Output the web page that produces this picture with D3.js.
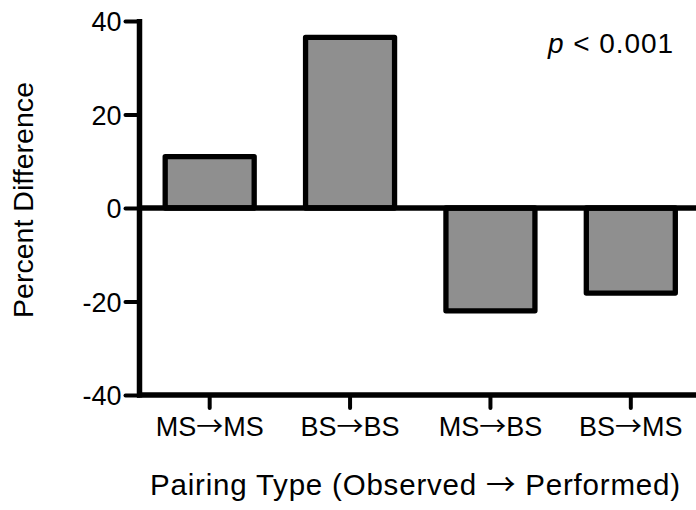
<!DOCTYPE html>
<html>
<head>
<meta charset="utf-8">
<script src="https://cdn.jsdelivr.net/npm/d3@7"></script>
<style>
  html, body { margin: 0; padding: 0; background: #fff; }
  svg { display: block; font-family: "Liberation Sans", Arial, sans-serif; }
</style>
</head>
<body>
<svg id="chart" width="696" height="510"></svg>
<script>
const categories = ["MS\u2192MS", "BS\u2192BS", "MS\u2192BS", "BS\u2192MS"];
const values = [11.0, 36.5, -22.0, -18.2];
const yTicks = [-40, -20, 0, 20, 40];
const xTitle = "Pairing Type (Observed \u2192 Performed)";
const yTitle = "Percent Difference";

(function () {
const svg = d3.select("#chart");
const mLeft = 139.5, mRight = 701, mTop = 21, mBottom = 395;
const ARROW_FONT = "'Noto Sans CJK JP', 'DejaVu Sans', sans-serif";

// write text with the arrow glyph in a wider font
function arrowText(sel, str) {
  const parts = str.split("\u2192");
  parts.forEach((p, i) => {
    if (p) sel.append("tspan").text(p);
    if (i < parts.length - 1)
      sel.append("tspan").attr("font-family", ARROW_FONT).text("\u2192");
  });
}

const x = d3.scaleBand().domain(categories).range([mLeft, mRight])
  .paddingInner(0.366).paddingOuter(0.183);
const y = d3.scaleLinear().domain([-40, 40]).range([mBottom, mTop]);

// bars
svg.append("g").selectAll("rect").data(values).join("rect")
  .attr("x", (d, i) => x(categories[i]))
  .attr("width", x.bandwidth())
  .attr("y", d => y(Math.max(0, d)))
  .attr("height", d => Math.abs(y(d) - y(0)))
  .attr("fill", "#8f8f8f")
  .attr("stroke", "#000")
  .attr("stroke-width", 5.3)
  .attr("stroke-linejoin", "round");

// zero line
svg.append("line")
  .attr("x1", mLeft).attr("x2", 696)
  .attr("y1", y(0)).attr("y2", y(0))
  .attr("stroke", "#000").attr("stroke-width", 5.5);

// y axis
const yAxis = svg.append("g").attr("transform", `translate(${mLeft},0)`)
  .call(d3.axisLeft(y).tickValues(yTicks).tickSize(14).tickPadding(4).tickFormat(d => String(d)));
yAxis.select(".domain").remove();
yAxis.selectAll(".tick line").attr("stroke", "#000").attr("stroke-width", 4).attr("stroke-linecap", "round");
yAxis.selectAll(".tick text").attr("font-size", 27).attr("fill", "#000")
  .attr("font-family", "'Liberation Sans', Arial, sans-serif").attr("dy", "0.36em");
yAxis.append("line").attr("x1", 0).attr("x2", 0).attr("y1", mTop - 2).attr("y2", mBottom + 2.5)
  .attr("stroke", "#000").attr("stroke-width", 5.5);

// x axis
const xAxis = svg.append("g").attr("transform", `translate(0,${mBottom})`)
  .call(d3.axisBottom(x).tickSize(13).tickPadding(0).tickFormat(""));
xAxis.select(".domain").remove();
xAxis.selectAll(".tick line").attr("stroke", "#000").attr("stroke-width", 4).attr("stroke-linecap", "round");
xAxis.selectAll(".tick").each(function (d) {
  const t = d3.select(this).append("text").attr("font-size", 27).attr("fill", "#000")
    .attr("font-family", "'Liberation Sans', Arial, sans-serif")
    .attr("text-anchor", "middle").attr("y", 41);
  arrowText(t, d);
});
xAxis.append("line").attr("x1", mLeft - 2.5).attr("x2", 696).attr("y1", 0).attr("y2", 0)
  .attr("stroke", "#000").attr("stroke-width", 5.5);

// titles
const xt = svg.append("text").attr("x", 415).attr("y", 495).attr("text-anchor", "middle")
  .attr("font-size", 29.5).attr("fill", "#000")
  .attr("textLength", 530).attr("lengthAdjust", "spacing");
arrowText(xt, xTitle);
svg.append("text").attr("transform", "translate(33,200) rotate(-90)").attr("text-anchor", "middle")
  .attr("font-size", 28.5).attr("fill", "#000")
  .attr("textLength", 236).attr("lengthAdjust", "spacing").text(yTitle);

// p-value annotation
const pt = svg.append("text").attr("x", 548).attr("y", 53.3).attr("text-anchor", "start")
  .attr("font-size", 28).attr("fill", "#000")
  .attr("textLength", 125).attr("lengthAdjust", "spacing");
pt.append("tspan").attr("font-style", "italic").text("p");
pt.append("tspan").text(" < 0.001");
})();
</script>
</body>
</html>
